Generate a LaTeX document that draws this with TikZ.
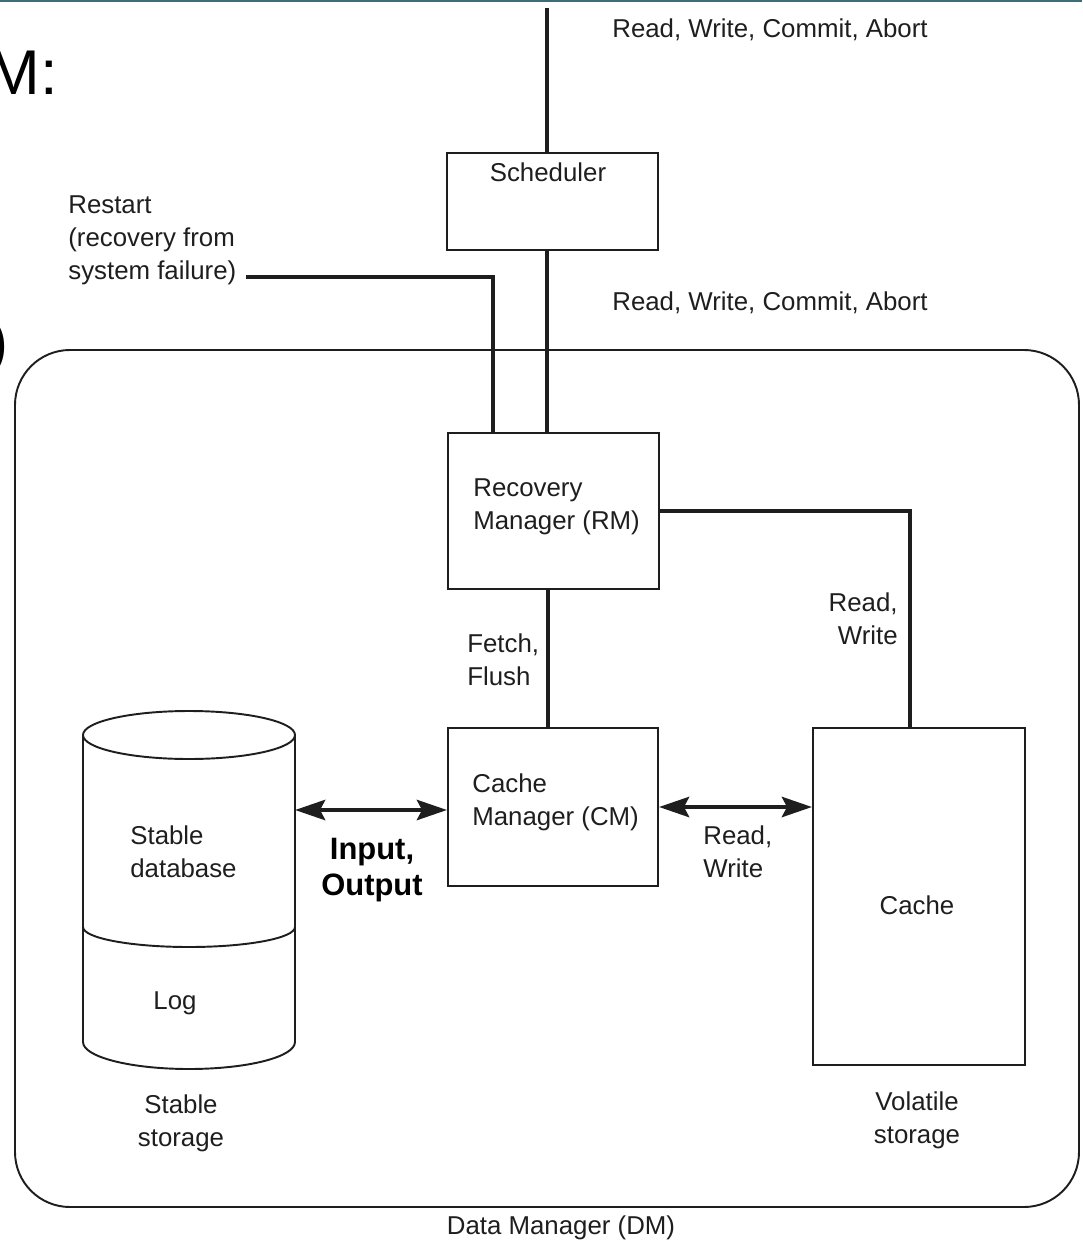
\documentclass[tikz,border=0pt]{standalone}
\usepackage{fontspec}
\setmainfont{Liberation Sans}
\usetikzlibrary{arrows.meta, positioning}
\definecolor{cteal}{HTML}{3E6D79}
\definecolor{cink}{HTML}{1E1E1E}
\tikzset{
  every picture/.style={font=\fontsize{14.7}{18.7}\selectfont, text=cink},
  box/.style={draw=cink, line width=1.1pt, inner sep=0pt},
  outline/.style={draw=cink, line width=1.1pt},
  wire/.style={draw=cink, line width=2.3pt},
  dblarrow/.style={{Stealth[length=6mm, width=4mm, inset=1mm]}-{Stealth[length=6mm, width=4mm, inset=1mm]}, draw=cink, line width=2.8pt},
  txt/.style={inner sep=0pt, align=left},
  ctxt/.style={inner sep=0pt, align=center},
  boldtxt/.style={font=\fontsize{17.6}{20.4}\selectfont\bfseries, text=black, inner sep=0pt, align=center},
  slide/.style={font=\fontsize{36}{40}\selectfont, text=black, inner sep=0pt},
}

\begin{document}
\begin{tikzpicture}[x=0.02cm, y=-0.02cm]
  \useasboundingbox (0,0) rectangle (1082,1247);
  % slide remains
  \draw[cteal, line width=1.5pt] (0,1) -- (1082,1);
  \node[slide, anchor=west] (slidem) at (-13,73) {M:};
  \node[slide, anchor=east] (slidep) at (9,347) {)};
  % data manager frame
  \draw[outline, rounded corners=1.1cm] (15,350) rectangle (1079,1207);
  \node[ctxt] (dmlabel) at (561,1228) {Data Manager (DM)};
  % boxes
  \node[box, minimum width=4.22cm, minimum height=1.94cm] (sched) at (552.5,201.5) {};
  \node[box, minimum width=4.22cm, minimum height=3.12cm] (rm) at (553.5,511) {};
  \node[box, minimum width=4.2cm, minimum height=3.16cm] (cm) at (553,807) {};
  \node[box, minimum width=4.24cm, minimum height=6.74cm] (cache) at (919,896.5) {};
  \node[ctxt] (schedtxt) at (548,172) {Scheduler};
  \node[txt, anchor=west] (rmtxt) at (473,506.5) {Recovery\\Manager (RM)};
  \node[txt, anchor=west] (cmtxt) at (472,802.5) {Cache\\Manager (CM)};
  \node[ctxt] (cachetxt) at (917,905) {Cache};
  \node[ctxt] (volatile) at (917,1120.5) {Volatile\\storage};
  % stable storage cylinder
  \draw[outline] (189,735) ellipse [x radius=106, y radius=24];
  \draw[outline] (83,735) -- (83,1042) arc[start angle=180, end angle=0, x radius=106, y radius=27] -- (295,735);
  \draw[outline] (83,927) arc[start angle=180, end angle=0, x radius=106, y radius=20];
  \node[txt, anchor=west] (dbtxt) at (130,851.5) {Stable\\database};
  \node[ctxt] (logtxt) at (175,1003) {Log};
  \node[ctxt] (stable) at (181,1123.5) {Stable\\storage};
  % connectors
  \coordinate (schedin) at (547,8);
  \coordinate (restartend) at (246,277);
  \coordinate (dbport) at (295,810);
  \draw[wire] (schedin) -- (schedin |- sched.north);
  \draw[wire] (schedin |- sched.south) -- (schedin |- rm.north);
  \draw[wire] (restartend) -| ([xshift=-1.21cm]rm.north);
  \draw[wire] (rm.east) -| ([xshift=-0.18cm]cache.north);
  \draw[wire] ([xshift=-0.11cm]rm.south) -- ([xshift=-0.11cm]rm.south |- cm.north);
  \draw[dblarrow] (dbport) -- (dbport -| cm.west);
  \draw[dblarrow] (cm.east) -- (cm.east -| cache.west);
  % labels
  \node[txt, anchor=west] (opstop) at (612,30) {Read, Write, Commit, Abort};
  \node[txt, anchor=west] (opsmid) at (612,303) {Read, Write, Commit, Abort};
  \node[txt, anchor=west] (restart) at (68,240) {Restart\\(recovery from\\system failure)};
  \node[txt, anchor=west] (fetch) at (467,660) {Fetch,\\Flush};
  \node[inner sep=0pt, align=right, anchor=east] (rwup) at (898,618.5) {Read,\\Write};
  \node[txt, anchor=west] (rwcache) at (703,852) {Read,\\Write};
  \node[boldtxt] (io) at (372,870) {Input,\\Output};
\end{tikzpicture}
\end{document}
